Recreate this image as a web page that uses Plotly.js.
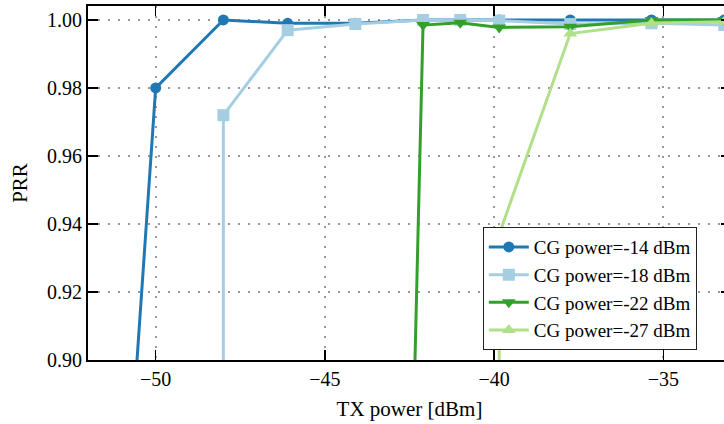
<!DOCTYPE html>
<html>
<head>
<meta charset="utf-8">
<script src="https://cdn.plot.ly/plotly-3.0.1.min.js"></script>
<style>
html, body { margin: 0; padding: 0; overflow: hidden; background: #fff; }
#chart { width: 731px; height: 424px; }
</style>
</head>
<body>
<div id="chart"></div>
<script>
// Series data (TX power in dBm, PRR)
const seriesNames = ["CG power=-14 dBm", "CG power=-18 dBm", "CG power=-22 dBm", "CG power=-27 dBm"];

const txCG14 = [-52, -50, -48, -46.1, -44.1, -42.1, -41.0, -39.85, -37.75, -35.35, -33.2];
const prrCG14 = [0.69, 0.980, 1.000, 0.999, 0.999, 1.000, 1.000, 1.000, 1.000, 1.000, 1.000];

const txCG18 = [-48, -48, -46.1, -44.1, -42.1, -41.0, -39.85, -37.75, -35.35, -33.2];
const prrCG18 = [0.0, 0.972, 0.997, 0.9988, 1.000, 1.000, 0.9998, 0.9988, 0.999, 0.9985];

const txCG22 = [-44.1, -42.1, -41.0, -39.85, -37.75, -35.35, -33.2];
const prrCG22 = [0.17, 0.9985, 0.9992, 0.9978, 0.998, 1.000, 1.000];

const txCG27 = [-39.8, -39.85, -37.75, -35.35, -33.2];
const prrCG27 = [0.0, 0.937, 0.996, 0.999, 0.9995];

const xTicks = [-50, -45, -40, -35];
const yTicks = [0.90, 0.92, 0.94, 0.96, 0.98, 1.00];

const colors = ["#1f78b4", "#a6cee3", "#33a02c", "#b2df8a"];
const symbols = ["circle", "square", "triangle-down", "triangle-up"];
const sizes = [11, 12, 12, 12];

const xs = [txCG14, txCG18, txCG22, txCG27];
const ys = [prrCG14, prrCG18, prrCG22, prrCG27];

const traces = seriesNames.map((name, i) => ({
  type: "scatter",
  mode: "lines+markers",
  name: name,
  x: xs[i],
  y: ys[i],
  line: { color: colors[i], width: 3 },
  marker: { color: colors[i], symbol: symbols[i], size: sizes[i], line: { width: 0 } },
  cliponaxis: true
}));

const font = "Liberation Serif";

const layout = {
  width: 731,
  height: 424,
  margin: { l: 88, r: 0, t: 6, b: 64 },
  paper_bgcolor: "#fff",
  plot_bgcolor: "#fff",
  font: { family: font, size: 20, color: "#000" },
  showlegend: true,
  legend: {
    x: 0.614, y: 0.028, xanchor: "left", yanchor: "bottom",
    bgcolor: "#fff", bordercolor: "#222", borderwidth: 1,
    font: { family: font, size: 19, color: "#000" },
    itemwidth: 40, tracegroupgap: 0
  },
  xaxis: {
    range: [-52, -33],
    tickvals: xTicks,
    ticktext: xTicks.map(v => (v < 0 ? "\u2212" : "") + Math.abs(v)),
    ticks: "inside", ticklen: 10, tickwidth: 1.5, tickcolor: "#000",
    showline: true, linecolor: "#000", linewidth: 2, mirror: "ticks",
    showgrid: true, gridcolor: "#999", gridwidth: 2, griddash: "2px,8px",
    zeroline: false,
    tickfont: { family: font, size: 20, color: "#000" },
    title: { text: "TX power [dBm]", font: { family: font, size: 21, color: "#000" }, standoff: 12 },
    automargin: false
  },
  yaxis: {
    range: [0.9, 1.0041],
    tickvals: yTicks,
    ticktext: yTicks.map(v => v.toFixed(2)),
    ticks: "inside", ticklen: 10, tickwidth: 1.5, tickcolor: "#000",
    showline: true, linecolor: "#000", linewidth: 2, mirror: "ticks",
    showgrid: true, gridcolor: "#999", gridwidth: 2, griddash: "2px,8px",
    zeroline: false,
    tickfont: { family: font, size: 20, color: "#000" },
    title: { text: "PRR", font: { family: font, size: 21, color: "#000" }, standoff: 14 },
    automargin: false
  }
};

Plotly.newPlot("chart", traces, layout, { staticPlot: true, displayModeBar: false });
</script>
</body>
</html>
